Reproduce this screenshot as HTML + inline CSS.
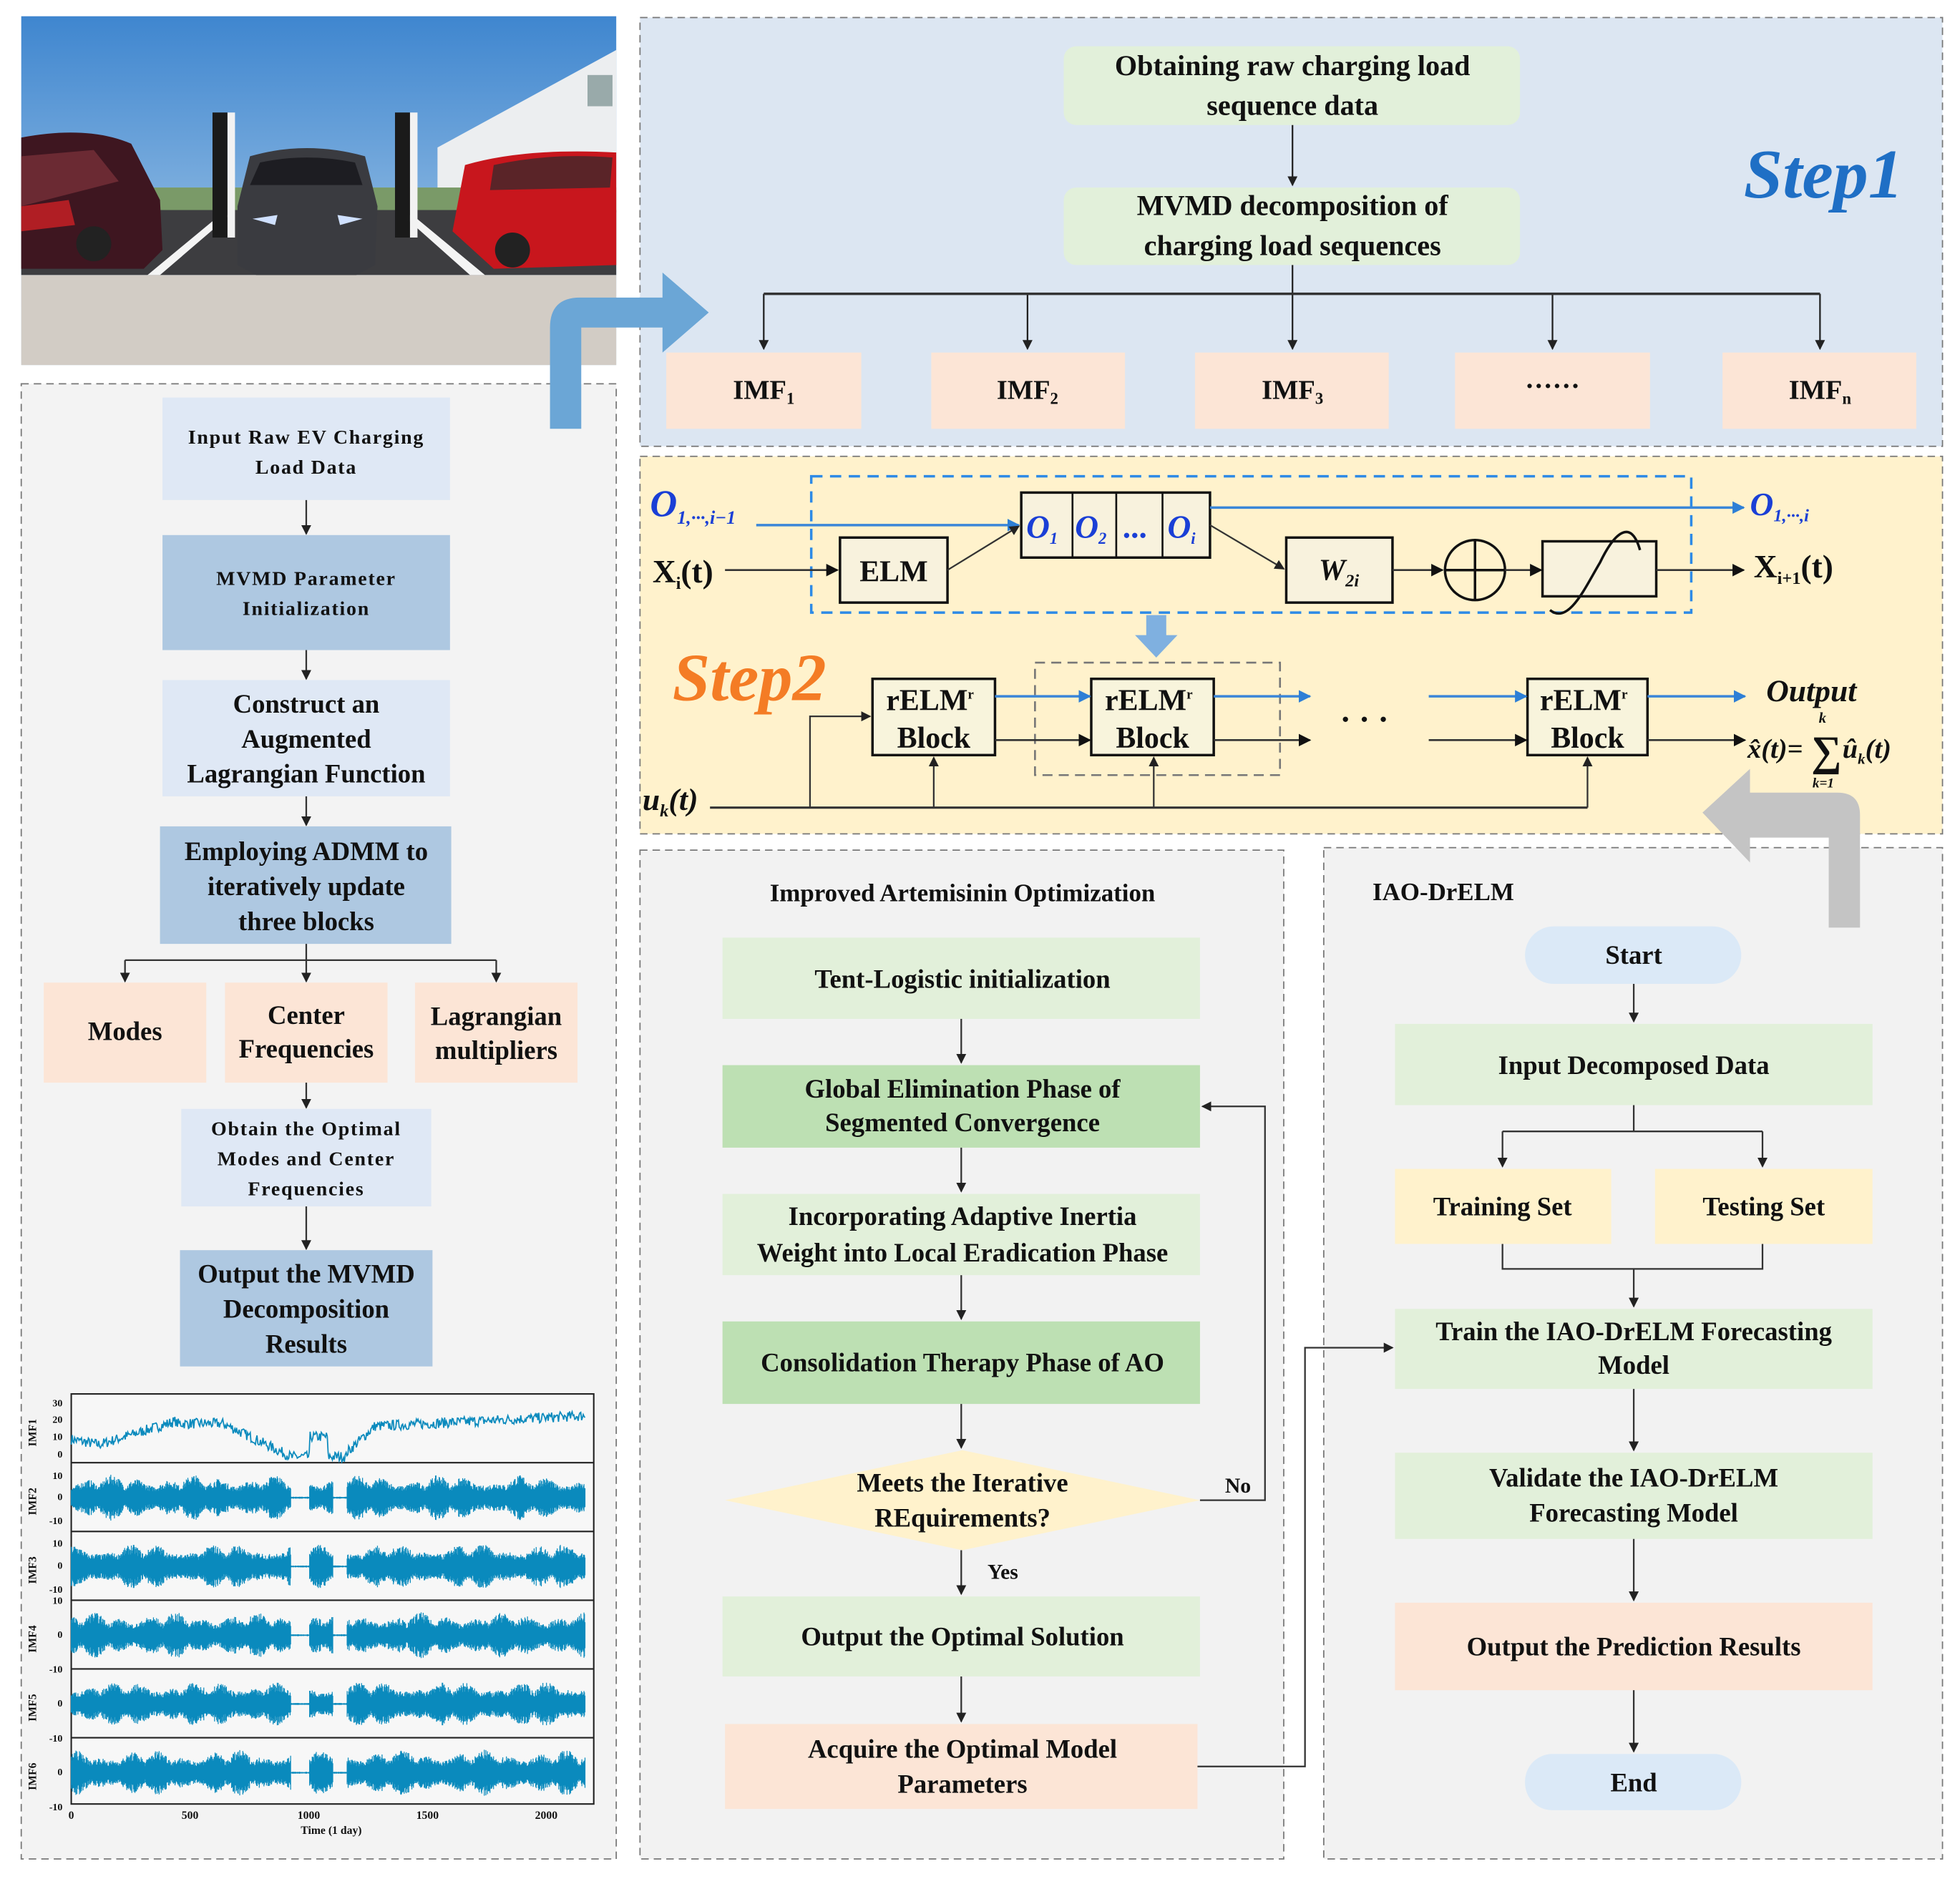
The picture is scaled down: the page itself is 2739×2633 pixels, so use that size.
<!DOCTYPE html>
<html><head><meta charset="utf-8">
<style>
html,body{margin:0;padding:0;background:#fff;}
svg{display:block;}
text{font-family:"Liberation Serif",serif;font-weight:bold;fill:#111;}
</style></head>
<body>
<svg id="s" width="2739" height="2633" viewBox="0 0 1568 1507" preserveAspectRatio="none" xmlns="http://www.w3.org/2000/svg">
<defs>
<marker id="ah" markerWidth="8" markerHeight="8" refX="7" refY="4" orient="auto" markerUnits="userSpaceOnUse"><path d="M0,0 L8,4 L0,8 z" fill="#222"/></marker>
<marker id="ab" markerWidth="10" markerHeight="10" refX="9" refY="5" orient="auto" markerUnits="userSpaceOnUse"><path d="M0,0 L10,5 L0,10 z" fill="#2d7fd6"/></marker>
<marker id="ak" markerWidth="10" markerHeight="10" refX="9" refY="5" orient="auto" markerUnits="userSpaceOnUse"><path d="M0,0 L10,5 L0,10 z" fill="#111"/></marker>
<linearGradient id="sky" x1="0" y1="0" x2="0" y2="1"><stop offset="0" stop-color="#3f86cf"/><stop offset="1" stop-color="#b5d3ec"/></linearGradient>
</defs>
<rect width="1568" height="1507" fill="#fff"/>

<!-- photo -->
<g>
<rect x="17" y="13" width="476" height="279" fill="url(#sky)"/>
<polygon points="350,118 493,40 493,190 350,190" fill="#eceef0"/>
<rect x="470" y="60" width="20" height="25" fill="#9aa"/>
<rect x="17" y="150" width="476" height="20" fill="#7a9a68"/>
<rect x="17" y="168" width="476" height="52" fill="#3d3d40"/>
<rect x="17" y="220" width="476" height="72" fill="#d2ccc5"/>
<polygon points="118,220 176,172 184,172 128,220" fill="#f4f4f4"/>
<polygon points="322,172 330,172 388,220 376,220" fill="#f4f4f4"/>
<path d="M17,110 Q70,100 105,115 L128,160 L130,200 L115,215 L17,215 z" fill="#3e1620"/>
<path d="M17,125 L75,120 L95,145 L17,165 z" fill="#6b2a33"/>
<path d="M17,165 L55,160 L60,180 L17,185z" fill="#b01e24"/>
<circle cx="75" cy="195" r="14" fill="#222"/>
<path d="M200,125 Q245,112 292,125 L302,165 L300,212 L285,220 L205,220 L190,212 L190,165 z" fill="#3a3b40"/>
<path d="M208,130 Q245,122 284,130 L290,148 L200,148 z" fill="#1d1d22"/>
<path d="M202,175 L222,172 L220,180z M290,175 L270,172 L272,180z" fill="#cfe0ff"/>
<rect x="170" y="90" width="12" height="100" fill="#1a1a1a"/><rect x="182" y="90" width="6" height="100" fill="#f2f2f2"/>
<rect x="316" y="90" width="12" height="100" fill="#1a1a1a"/><rect x="328" y="90" width="6" height="100" fill="#f2f2f2"/>
<path d="M372,132 Q420,118 493,122 L493,212 L395,215 L362,185 z" fill="#c8161d"/>
<path d="M395,132 Q440,122 490,126 L488,150 L392,152 z" fill="#5a2428"/>
<circle cx="410" cy="200" r="14" fill="#222"/>
</g>

<!-- left panel -->
<rect x="17" y="307" width="476" height="1180" fill="#f3f3f3" stroke="#777" stroke-dasharray="6,4"/>

<!-- Step1 panel -->
<rect x="512" y="14" width="1042" height="343" fill="#dce6f2" stroke="#777" stroke-dasharray="6,4"/>
<!-- Step2 panel -->
<rect x="512" y="365" width="1042" height="302" fill="#fff2cc" stroke="#777" stroke-dasharray="6,4"/>
<!-- IAO panel -->
<rect x="512" y="680" width="515" height="807" fill="#f2f2f2" stroke="#777" stroke-dasharray="6,4"/>
<!-- IAO-DrELM panel -->
<rect x="1059" y="678" width="495" height="809" fill="#f2f2f2" stroke="#777" stroke-dasharray="6,4"/>

<!-- big blue arrow -->
<path d="M440,343 L440,262 Q440,238 464,238 L530,238 L530,218 L567,250 L530,282 L530,262 L465,262 L465,343 z" fill="#6ba6d6"/>
<!-- gray arrow -->
<path d="M1463,742 L1463,670 L1400,670 L1400,690 L1362,650 L1400,615 L1400,634 L1470,634 Q1488,634 1488,652 L1488,742 z" fill="#c4c4c4"/>

<!-- LEFT FLOW -->
<g font-size="16" text-anchor="middle" letter-spacing="1">
<rect x="130" y="318" width="230" height="82" fill="#dfe8f5"/>
<text x="245" y="355">Input Raw EV Charging</text><text x="245" y="379">Load Data</text>
<rect x="130" y="428" width="230" height="92" fill="#aec8e1"/>
<text x="245" y="468">MVMD Parameter</text><text x="245" y="492">Initialization</text>
<rect x="145" y="887" width="200" height="78" fill="#dfe8f5"/>
<text x="245" y="908">Obtain the Optimal</text><text x="245" y="932">Modes and Center</text><text x="245" y="956">Frequencies</text>
</g>
<g font-size="21" text-anchor="middle">
<rect x="130" y="544" width="230" height="93" fill="#dfe8f5"/>
<text x="245" y="570">Construct an</text><text x="245" y="598">Augmented</text><text x="245" y="626">Lagrangian Function</text>
<rect x="128" y="661" width="233" height="94" fill="#aec8e1"/>
<text x="245" y="688">Employing ADMM to</text><text x="245" y="716">iteratively update</text><text x="245" y="744">three blocks</text>
<rect x="35" y="786" width="130" height="80" fill="#fce5d6"/>
<text x="100" y="832">Modes</text>
<rect x="180" y="786" width="130" height="80" fill="#fce5d6"/>
<text x="245" y="819">Center</text><text x="245" y="846">Frequencies</text>
<rect x="332" y="786" width="130" height="80" fill="#fce5d6"/>
<text x="397" y="820">Lagrangian</text><text x="397" y="847">multipliers</text>
<rect x="144" y="1000" width="202" height="93" fill="#aec8e1"/>
<text x="245" y="1026">Output the MVMD</text><text x="245" y="1054">Decomposition</text><text x="245" y="1082">Results</text>
</g>
<g stroke="#333" stroke-width="1.3" fill="none" marker-end="url(#ah)">
<line x1="245" y1="400" x2="245" y2="427"/>
<line x1="245" y1="520" x2="245" y2="543"/>
<line x1="245" y1="637" x2="245" y2="660"/>
<line x1="245" y1="755" x2="245" y2="785"/>
<line x1="100" y1="768" x2="100" y2="785"/>
<line x1="397" y1="768" x2="397" y2="785"/>
<line x1="245" y1="866" x2="245" y2="886"/>
<line x1="245" y1="965" x2="245" y2="999"/>
</g>
<line x1="100" y1="768" x2="397" y2="768" stroke="#333" stroke-width="1.3"/>

<!-- chart -->
<g id="chart">
<rect x="57" y="1115" width="418" height="328" fill="#f7f7f7" stroke="#222" stroke-width="1.2"/>
<g stroke="#222" stroke-width="1.2">
<line x1="57" y1="1170" x2="475" y2="1170"/><line x1="57" y1="1225" x2="475" y2="1225"/>
<line x1="57" y1="1280" x2="475" y2="1280"/><line x1="57" y1="1335" x2="475" y2="1335"/>
<line x1="57" y1="1390" x2="475" y2="1390"/>
</g>
<g font-size="8" text-anchor="end">
<text x="50" y="1125">30</text><text x="50" y="1138">20</text><text x="50" y="1152">10</text><text x="50" y="1166">0</text>
<text x="50" y="1183">10</text><text x="50" y="1200">0</text><text x="50" y="1219">-10</text>
<text x="50" y="1237">10</text><text x="50" y="1255">0</text><text x="50" y="1274">-10</text>
<text x="50" y="1283">10</text><text x="50" y="1310">0</text><text x="50" y="1338">-10</text>
<text x="50" y="1365">0</text><text x="50" y="1393">-10</text>
<text x="50" y="1420">0</text><text x="50" y="1448">-10</text>
</g>
<g font-size="9" text-anchor="middle">
<text x="57" y="1455">0</text><text x="152" y="1455">500</text><text x="247" y="1455">1000</text><text x="342" y="1455">1500</text><text x="437" y="1455">2000</text>
<text x="265" y="1467">Time (1 day)</text>
</g>
<g font-size="9">
<text transform="translate(29,1157) rotate(-90)">IMF1</text>
<text transform="translate(29,1212) rotate(-90)">IMF2</text>
<text transform="translate(29,1267) rotate(-90)">IMF3</text>
<text transform="translate(29,1322) rotate(-90)">IMF4</text>
<text transform="translate(29,1377) rotate(-90)">IMF5</text>
<text transform="translate(29,1432) rotate(-90)">IMF6</text>
</g>
<path id="w1" fill="none" stroke="#0a8abd" stroke-width="1"/>
<path id="w2" fill="none" stroke="#0a8abd" stroke-width="0.7"/>
</g>

<!-- STEP1 -->
<g font-size="23" text-anchor="middle">
<rect x="851" y="37" width="365" height="63" rx="10" fill="#e2f0da"/>
<text x="1034" y="60">Obtaining raw charging load</text><text x="1034" y="92">sequence data</text>
<rect x="851" y="150" width="365" height="62" rx="10" fill="#e2f0da"/>
<text x="1034" y="172">MVMD decomposition of</text><text x="1034" y="204">charging load sequences</text>
</g>
<text x="1395" y="158" font-size="56" font-style="italic" style="fill:#1f6fc5">Step1</text>
<g stroke="#222" stroke-width="1.3" fill="none" marker-end="url(#ah)">
<line x1="1034" y1="100" x2="1034" y2="148"/>
<line x1="1034" y1="212" x2="1034" y2="279"/>
<line x1="611" y1="235" x2="611" y2="279"/>
<line x1="822" y1="235" x2="822" y2="279"/>
<line x1="1242" y1="235" x2="1242" y2="279"/>
<line x1="1456" y1="235" x2="1456" y2="279"/>
</g>
<line x1="611" y1="235" x2="1456" y2="235" stroke="#333" stroke-width="2"/>
<g font-size="22" text-anchor="middle">
<rect x="533" y="282" width="156" height="61" fill="#fce5d6"/><text x="611" y="319">IMF<tspan font-size="13" dy="4">1</tspan></text>
<rect x="745" y="282" width="155" height="61" fill="#fce5d6"/><text x="822" y="319">IMF<tspan font-size="13" dy="4">2</tspan></text>
<rect x="956" y="282" width="155" height="61" fill="#fce5d6"/><text x="1034" y="319">IMF<tspan font-size="13" dy="4">3</tspan></text>
<rect x="1164" y="282" width="156" height="61" fill="#fce5d6"/><text x="1242" y="316">······</text>
<rect x="1378" y="282" width="155" height="61" fill="#fce5d6"/><text x="1456" y="319">IMF<tspan font-size="13" dy="4">n</tspan></text>
</g>

<!-- STEP2 -->
<rect x="649" y="381" width="704" height="109" fill="none" stroke="#2d8ae6" stroke-width="2" stroke-dasharray="9,6"/>
<text x="520" y="413" font-size="30" font-style="italic" font-weight="normal" style="fill:#1a3fd6">O<tspan font-size="15" dy="6">1,···,i−1</tspan></text>
<text x="522" y="466" font-size="26">X<tspan font-size="14" dy="5">i</tspan><tspan dy="-5">(t)</tspan></text>
<line x1="605" y1="420" x2="815" y2="420" stroke="#3a86d8" stroke-width="2" marker-end="url(#ab)"/>
<line x1="580" y1="456" x2="670" y2="456" stroke="#333" stroke-width="1.5" marker-end="url(#ak)"/>
<rect x="672" y="430" width="86" height="52" fill="#f8f2dd" stroke="#111" stroke-width="2"/>
<text x="715" y="465" font-size="24" text-anchor="middle">ELM</text>
<rect x="817" y="394" width="151" height="52" fill="#f8f2dd" stroke="#111" stroke-width="2"/>
<g stroke="#111" stroke-width="1.5"><line x1="858" y1="394" x2="858" y2="446"/><line x1="893" y1="394" x2="893" y2="446"/><line x1="930" y1="394" x2="930" y2="446"/></g>
<g font-size="26" font-style="italic" font-weight="normal">
<text x="821" y="430" style="fill:#1a3fd6">O<tspan font-size="13" dy="5">1</tspan></text>
<text x="860" y="430" style="fill:#1a3fd6">O<tspan font-size="13" dy="5">2</tspan></text>
<text x="899" y="430" style="fill:#1a3fd6">...</text>
<text x="934" y="430" style="fill:#1a3fd6">O<tspan font-size="13" dy="5">i</tspan></text>
</g>
<line x1="968" y1="406" x2="1395" y2="406" stroke="#3a86d8" stroke-width="2" marker-end="url(#ab)"/>
<text x="1400" y="412" font-size="26" font-style="italic" font-weight="normal" style="fill:#1a3fd6">O<tspan font-size="14" dy="5">1,···,i</tspan></text>
<line x1="758" y1="456" x2="815" y2="421" stroke="#333" stroke-width="1.3" marker-end="url(#ah)"/>
<line x1="968" y1="420" x2="1027" y2="455" stroke="#333" stroke-width="1.3" marker-end="url(#ah)"/>
<rect x="1029" y="430" width="85" height="52" fill="#f8f2dd" stroke="#111" stroke-width="2"/>
<text x="1055" y="464" font-size="24" font-style="italic">W<tspan font-size="14" dy="5">2i</tspan></text>
<line x1="1114" y1="456" x2="1154" y2="456" stroke="#333" stroke-width="1.5" marker-end="url(#ak)"/>
<circle cx="1180" cy="456" r="24" fill="none" stroke="#111" stroke-width="2"/>
<line x1="1156" y1="456" x2="1204" y2="456" stroke="#111" stroke-width="2"/><line x1="1180" y1="432" x2="1180" y2="480" stroke="#111" stroke-width="2"/>
<line x1="1204" y1="456" x2="1233" y2="456" stroke="#333" stroke-width="1.5" marker-end="url(#ak)"/>
<rect x="1234" y="433" width="91" height="44" fill="#f8f2dd" stroke="#111" stroke-width="2"/>
<path d="M1240,488 C1255,500 1268,470 1280,450 C1292,425 1305,415 1312,440" fill="none" stroke="#111" stroke-width="2"/>
<line x1="1325" y1="456" x2="1395" y2="456" stroke="#333" stroke-width="1.5" marker-end="url(#ak)"/>
<text x="1403" y="462" font-size="26">X<tspan font-size="14" dy="5">i+1</tspan><tspan dy="-5">(t)</tspan></text>
<path d="M917,492 L933,492 L933,508 L942,508 L925,526 L908,508 L917,508 z" fill="#7fb0e0"/>
<text x="538" y="560" font-size="54" font-style="italic" style="fill:#f47c25">Step2</text>
<rect x="828" y="530" width="196" height="90" fill="none" stroke="#777" stroke-width="1.5" stroke-dasharray="8,5"/>
<g font-size="24" text-anchor="middle">
<rect x="698" y="543" width="98" height="61" fill="#f8f4dc" stroke="#111" stroke-width="2"/>
<text x="744" y="568">rELM<tspan font-size="11" dy="-9">r</tspan></text><text x="747" y="598">Block</text>
<rect x="873" y="543" width="98" height="61" fill="#f8f4dc" stroke="#111" stroke-width="2"/>
<text x="919" y="568">rELM<tspan font-size="11" dy="-9">r</tspan></text><text x="922" y="598">Block</text>
<rect x="1222" y="543" width="96" height="61" fill="#f8f4dc" stroke="#111" stroke-width="2"/>
<text x="1267" y="568">rELM<tspan font-size="11" dy="-9">r</tspan></text><text x="1270" y="598">Block</text>
</g>
<g stroke="#3a86d8" stroke-width="2" marker-end="url(#ab)">
<line x1="796" y1="557" x2="872" y2="557"/><line x1="971" y1="557" x2="1048" y2="557"/>
<line x1="1143" y1="557" x2="1221" y2="557"/><line x1="1318" y1="557" x2="1396" y2="557"/>
</g>
<g stroke="#333" stroke-width="1.5" marker-end="url(#ak)">
<line x1="796" y1="592" x2="872" y2="592"/><line x1="971" y1="592" x2="1048" y2="592"/>
<line x1="1143" y1="592" x2="1221" y2="592"/><line x1="1318" y1="592" x2="1396" y2="592"/>
</g>
<text x="1072" y="584" font-size="26">· · ·</text>
<text x="1413" y="561" font-size="25" font-style="italic">Output</text>
<text x="1398" y="606" font-size="22" font-style="italic" font-weight="normal">x̂(t)=</text>
<text x="1449" y="612" font-size="34" font-weight="normal">∑</text>
<text x="1455" y="578" font-size="12" font-style="italic" font-weight="normal">k</text>
<text x="1450" y="630" font-size="11" font-style="italic" font-weight="normal">k=1</text>
<text x="1474" y="606" font-size="22" font-style="italic" font-weight="normal">û<tspan font-size="12" dy="5">k</tspan><tspan dy="-5">(t)</tspan></text>
<text x="514" y="648" font-size="25" font-style="italic">u<tspan font-size="14" dy="5">k</tspan><tspan dy="-5">(t)</tspan></text>
<g stroke="#333" stroke-width="1.3" fill="none">
<line x1="568" y1="646" x2="1270" y2="646" stroke-width="1.8"/>
<polyline points="648,646 648,573 696,573" marker-end="url(#ah)"/>
<line x1="747" y1="646" x2="747" y2="606" marker-end="url(#ah)"/>
<line x1="923" y1="646" x2="923" y2="606" marker-end="url(#ah)"/>
<line x1="1270" y1="646" x2="1270" y2="606" marker-end="url(#ah)"/>
</g>

<!-- IAO -->
<text x="770" y="721" font-size="20" text-anchor="middle">Improved Artemisinin Optimization</text>
<g font-size="21" text-anchor="middle">
<rect x="578" y="750" width="382" height="65" fill="#e2f0da"/><text x="770" y="790">Tent-Logistic initialization</text>
<rect x="578" y="852" width="382" height="66" fill="#bde0b3"/><text x="770" y="878">Global Elimination Phase of</text><text x="770" y="905">Segmented Convergence</text>
<rect x="578" y="955" width="382" height="65" fill="#e2f0da"/><text x="770" y="980">Incorporating Adaptive Inertia</text><text x="770" y="1009">Weight into Local Eradication Phase</text>
<rect x="578" y="1057" width="382" height="66" fill="#bde0b3"/><text x="770" y="1097">Consolidation Therapy Phase of AO</text>
<polygon points="580,1200 770,1160 960,1200 770,1240" fill="#fff2cc"/>
<text x="770" y="1193">Meets the Iterative</text><text x="770" y="1221">REquirements?</text>
<rect x="578" y="1277" width="382" height="64" fill="#e2f0da"/><text x="770" y="1316">Output the Optimal Solution</text>
<rect x="580" y="1379" width="378" height="68" fill="#fce5d6"/><text x="770" y="1406">Acquire the Optimal Model</text><text x="770" y="1434">Parameters</text>
</g>
<text x="980" y="1194" font-size="17">No</text>
<text x="790" y="1263" font-size="17">Yes</text>
<g stroke="#333" stroke-width="1.3" fill="none" marker-end="url(#ah)">
<line x1="769" y1="815" x2="769" y2="850"/>
<line x1="769" y1="918" x2="769" y2="953"/>
<line x1="769" y1="1020" x2="769" y2="1055"/>
<line x1="769" y1="1123" x2="769" y2="1158"/>
<line x1="769" y1="1240" x2="769" y2="1275"/>
<line x1="769" y1="1341" x2="769" y2="1377"/>
<polyline points="960,1200 1012,1200 1012,885 962,885"/>
<polyline points="958,1413 1044,1413 1044,1078 1114,1078"/>
</g>

<!-- IAO-DrELM -->
<text x="1098" y="720" font-size="20">IAO-DrELM</text>
<g font-size="21" text-anchor="middle">
<rect x="1220" y="741" width="173" height="46" rx="23" fill="#dbe9f7"/><text x="1307" y="771">Start</text>
<rect x="1116" y="819" width="382" height="65" fill="#e2f0da"/><text x="1307" y="859">Input Decomposed Data</text>
<rect x="1116" y="935" width="173" height="60" fill="#fff2cc"/><text x="1202" y="972">Training Set</text>
<rect x="1324" y="935" width="174" height="60" fill="#fff2cc"/><text x="1411" y="972">Testing Set</text>
<rect x="1116" y="1047" width="382" height="64" fill="#e2f0da"/><text x="1307" y="1072">Train the IAO-DrELM Forecasting</text><text x="1307" y="1099">Model</text>
<rect x="1116" y="1162" width="382" height="69" fill="#e2f0da"/><text x="1307" y="1189">Validate the IAO-DrELM</text><text x="1307" y="1217">Forecasting Model</text>
<rect x="1116" y="1282" width="382" height="70" fill="#fce5d6"/><text x="1307" y="1324">Output the Prediction Results</text>
<rect x="1220" y="1403" width="173" height="45" rx="22" fill="#dbe9f7"/><text x="1307" y="1433">End</text>
</g>
<g stroke="#333" stroke-width="1.3" fill="none">
<line x1="1307" y1="884" x2="1307" y2="905"/><line x1="1202" y1="905" x2="1410" y2="905"/>
<polyline points="1202,995 1202,1015 1410,1015 1410,995"/>
</g>
<g stroke="#333" stroke-width="1.3" fill="none" marker-end="url(#ah)">
<line x1="1307" y1="787" x2="1307" y2="817"/>
<line x1="1202" y1="905" x2="1202" y2="933"/>
<line x1="1410" y1="905" x2="1410" y2="933"/>
<line x1="1307" y1="1015" x2="1307" y2="1045"/>
<line x1="1307" y1="1111" x2="1307" y2="1160"/>
<line x1="1307" y1="1231" x2="1307" y2="1280"/>
<line x1="1307" y1="1352" x2="1307" y2="1401"/>
</g>
</svg>
<script>
(function(){
var seed=7;function r(){seed=(seed*16807)%2147483647;return seed/2147483647;}
var x0=57,x1=468,N=600;
var d="";
function base(t){
  var tt=t*2200;
  if(tt<120) return 0.35-tt/1200;
  if(tt<450) return 0.25+(tt-120)/330*0.45;
  if(tt<650) return 0.65;
  if(tt<950) return 0.65-(tt-650)/300*0.65;
  if(tt<1020) return 0.02;
  if(tt<1100) return 0.4;
  if(tt<1180) return 0.02;
  if(tt<1300) return 0.1+(tt-1180)/120*0.5;
  return 0.6+(tt-1300)/900*0.2;
}
for(var i=0;i<=N;i++){var t=i/N;var x=x0+(x1-x0)*t;var y=1166-(base(t)+(r()-0.5)*0.2)*42;d+=(i?"L":"M")+x.toFixed(1)+","+y.toFixed(1);}
document.getElementById("w1").setAttribute("d",d);
var centers=[1198,1253,1308,1363,1418];
var d2="";
function env(t,k){var tt=t*2200;if((tt>940&&tt<1020)||(tt>1120&&tt<1180))return 0.03;
 return 0.35+0.35*Math.abs(Math.sin(tt/37+k))*Math.abs(Math.sin(tt/113+k*2));}
for(var k=0;k<5;k++){var c=centers[k];var amp=24;
 for(var i=0;i<=1000;i++){var t=i/1000;var x=x0+(x1-x0)*t;var e=env(t,k)*amp*(0.6+0.5*r());
  d2+="M"+x.toFixed(2)+","+(c-e).toFixed(1)+"L"+x.toFixed(2)+","+(c+e).toFixed(1);}
}
document.getElementById("w2").setAttribute("d",d2);
})();
</script>
</body></html>
